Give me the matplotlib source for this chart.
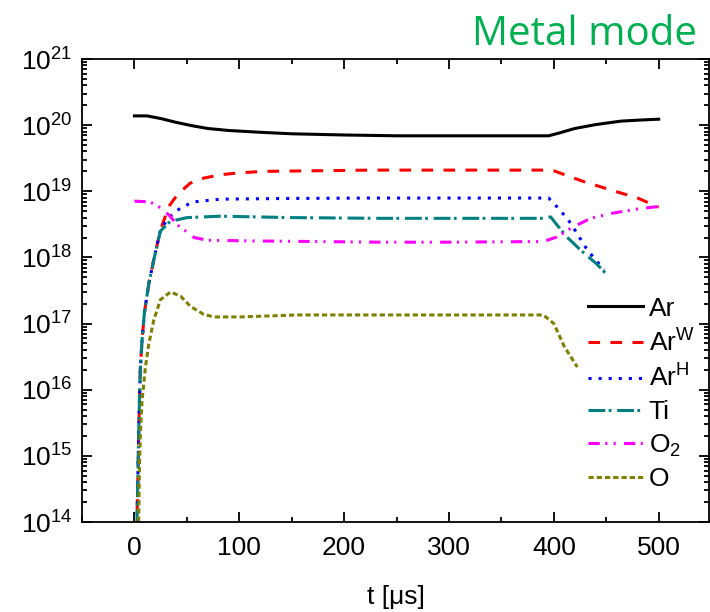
import matplotlib
matplotlib.use("Agg")
import matplotlib.pyplot as plt
from matplotlib.ticker import LogLocator, MultipleLocator, NullFormatter

plt.rcParams['font.family'] = ['Liberation Sans', 'DejaVu Sans']
plt.rcParams['mathtext.default'] = 'regular'

# ---- data ----
t_ar = [0, 12, 25, 40, 55, 70, 90, 120, 150, 200, 250, 300, 350, 395, 405, 420, 440, 464, 485, 500]
n_ar = [1.38e20, 1.38e20, 1.26e20, 1.10e20, 9.8e19, 8.9e19, 8.3e19, 7.8e19, 7.4e19, 7.1e19,
        6.9e19, 6.9e19, 6.9e19, 6.9e19, 7.6e19, 8.9e19, 1.02e20, 1.15e20, 1.20e20, 1.23e20]

t_arw = [2, 2.5, 3.5, 4.1, 4.8, 5.7, 7.3, 9.5, 13.7, 18.4, 24.8, 32.8, 41, 53, 66, 82, 100, 123,
         170, 225, 300, 395, 400, 428, 454, 480, 500]
n_arw = [3.2e13, 1.2e14, 6.9e14, 2.2e15, 6.9e15, 2.2e16, 5.6e16, 1.45e17, 4.0e17, 9.1e17, 2.6e18,
         5.9e18, 8.9e18, 1.32e19, 1.58e19, 1.78e19, 1.9e19, 2.0e19, 2.04e19, 2.09e19, 2.09e19,
         2.09e19, 2.04e19, 1.41e19, 1.05e19, 7.9e18, 5.75e18]

t_arh = [2, 2.5, 3.5, 4.1, 4.8, 5.7, 7.3, 9.5, 13.7, 18.4, 24.8, 32.6, 44, 56, 82, 150, 225, 395,
         406, 416, 432, 448]
n_arh = [3.2e13, 1.2e14, 6.9e14, 2.2e15, 6.9e15, 2.2e16, 5.6e16, 1.45e17, 4.0e17, 9.1e17, 2.6e18,
         4.0e18, 5.6e18, 6.9e18, 7.6e18, 7.8e18, 7.9e18, 7.9e18, 5.2e18, 3.3e18, 1.29e18, 6.5e17]

t_ti = [2, 2.5, 3.5, 4.1, 4.8, 5.7, 7.3, 9.5, 13.7, 18.4, 24.8, 34, 50, 82, 150, 235, 390, 397,
        403, 413, 425.6, 441.5, 451]
n_ti = [3.2e13, 1.2e14, 6.9e14, 2.2e15, 6.9e15, 2.2e16, 5.6e16, 1.45e17, 4.0e17, 9.1e17, 2.5e18,
        3.5e18, 4.0e18, 4.2e18, 4.0e18, 3.9e18, 3.9e18, 4.1e18, 3.1e18, 2.0e18, 1.29e18, 7.8e17, 5.4e17]

t_o2 = [0, 15, 26, 34, 41, 57, 69, 107, 171, 235, 300, 390, 403, 416, 435, 457, 480, 500]
n_o2 = [7.1e18, 6.9e18, 5.5e18, 4.2e18, 3.1e18, 2.0e18, 1.82e18, 1.78e18, 1.74e18, 1.70e18,
        1.70e18, 1.74e18, 2.04e18, 2.75e18, 3.9e18, 4.7e18, 5.4e18, 5.9e18]

t_o = [3.5, 4.1, 4.8, 5.7, 7.3, 10.5, 13.6, 18.4, 24.8, 34.4, 44, 53.4, 66, 75.7, 101, 155, 235,
       390, 400, 410, 422.4]
n_o = [3.2e13, 1.2e14, 6.9e14, 2.2e15, 6.9e15, 2.2e16, 4.8e16, 1.12e17, 2.3e17, 3.0e17, 2.6e17,
       1.82e17, 1.38e17, 1.26e17, 1.26e17, 1.35e17, 1.35e17, 1.35e17, 1.0e17, 4.5e16, 2.2e16]

labels = ['Ar', 'Ar$^{W}$', 'Ar$^{H}$', 'Ti', 'O$_{2}$', 'O']
x_ticks = [0, 100, 200, 300, 400, 500]

# ---- figure ----
fig = plt.figure(figsize=(7.1, 6.12), dpi=100)
ax = fig.add_axes([82 / 710, (612 - 522) / 612, 627 / 710, (522 - 59) / 612])

lw = 2.2
ax.plot(t_ar, n_ar, color='black', lw=lw, ls='-', label=labels[0])
ax.plot(t_arw, n_arw, color='#ff0000', lw=lw, ls=(0, (3.8, 3.4)), label=labels[1])
ax.plot(t_arh, n_arh, color='#0000ff', lw=lw, ls=(0, (1.0, 2.3)), label=labels[2])
ax.plot(t_ti, n_ti, color='#008080', lw=lw, ls=(0, (5.5, 1.1, 0.9, 1.9)), label=labels[3])
ax.plot(t_o2, n_o2, color='#ff00ff', lw=lw, ls=(0, (3.7, 1.8, 0.7, 2.0, 0.7, 2.7)), label=labels[4])
ax.plot(t_o, n_o, color='#808000', lw=lw, ls=(0, (1.7, 1.0)), label=labels[5])

ax.set_yscale('log')
ax.set_ylim(1e14, 1e21)
ax.set_xlim(-50, 548)
ax.set_xticks(x_ticks)
ax.xaxis.set_minor_locator(MultipleLocator(50))
ax.yaxis.set_major_locator(LogLocator(base=10, numticks=20))
ax.yaxis.set_minor_locator(LogLocator(base=10, subs=range(2, 10), numticks=20))
ax.yaxis.set_minor_formatter(NullFormatter())

ax.tick_params(which='both', direction='in', top=True, right=True, width=1.3, color='black')
ax.tick_params(which='major', length=7, labelsize=19)
ax.tick_params(which='minor', length=3.8)
ax.tick_params(axis='x', which='major', pad=10)
ax.tick_params(axis='y', which='major', pad=7)
for s in ax.spines.values():
    s.set_linewidth(1.3)

ax.set_xlabel('t [μs]', fontsize=19, labelpad=18)

leg = ax.legend(loc='upper left', bbox_to_anchor=(0.807, 0.487), frameon=False, fontsize=19,
                handlelength=2.1, handletextpad=0.2, labelspacing=0.32, borderpad=0.0,
                borderaxespad=0.0)

fig.text(697 / 710, 1 - 45 / 612, 'Metal mode', color='#00b050', fontsize=29,
         family=['Open Sans', 'DejaVu Sans'], ha='right', va='baseline')

fig.savefig('out.png', dpi=100)
